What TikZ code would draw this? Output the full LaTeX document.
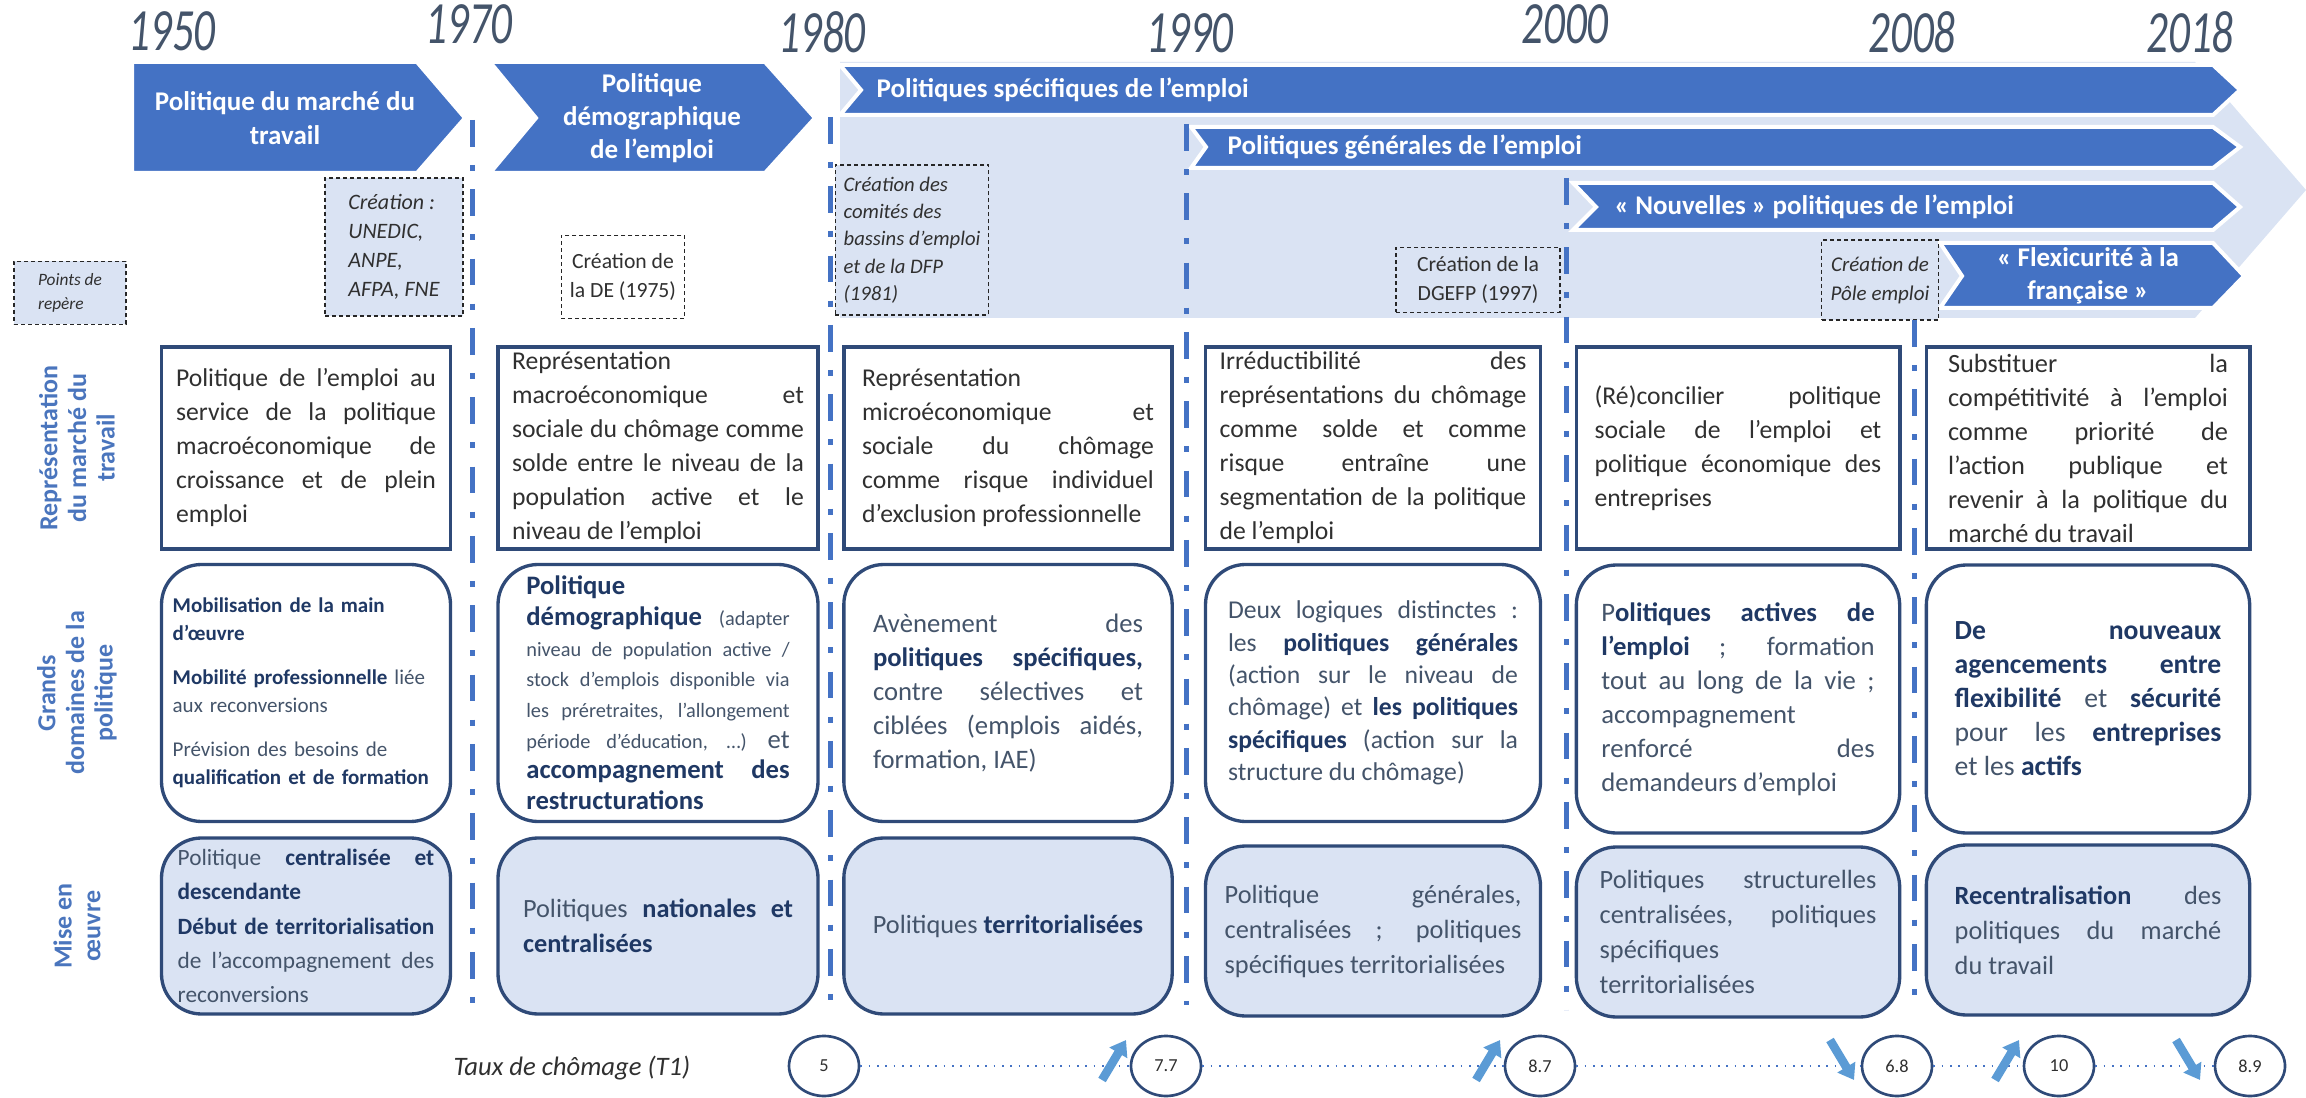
\documentclass[tikz,border=0pt]{standalone}
\usepackage{fontspec}
\setmainfont{Carlito}
\newfontfamily\yearfont{Carlito}[FakeStretch=0.72]
\usetikzlibrary{shapes.geometric,arrows.meta}
\definecolor{arrowblue}{HTML}{4472C4}
\definecolor{lightbg}{HTML}{DAE3F3}
\definecolor{navy}{HTML}{2F4A78}
\definecolor{boldnavy}{HTML}{1F3864}
\definecolor{slate}{HTML}{44546A}
\definecolor{txtgray}{HTML}{303030}
\definecolor{labblue}{HTML}{4A75BD}
\definecolor{trendblue}{HTML}{5B9BD5}
\newcommand{\fort}[1]{{\bfseries\color{boldnavy}#1}}
\hyphenpenalty=10000
\exhyphenpenalty=10000
\begin{document}
\begin{tikzpicture}[x=0.3pt,y=-0.3pt,
  yearlab/.style={font=\yearfont\fontsize{18}{18}\selectfont\itshape,text=slate},
  darkarrow/.style={fill=arrowblue,draw=white,line width=1.2pt},
  arrowtxt/.style={font=\fontsize{8.1}{10}\selectfont\bfseries,text=white,align=center,inner sep=0pt},
  repere/.style={draw=black!85,dash pattern=on 1.2pt off 0.9pt,line width=0.45pt,fill=lightbg,
    inner sep=0pt,font=\fontsize{6.5}{8.7}\selectfont,text=txtgray},
  rowlab/.style={rotate=90,font=\fontsize{7.8}{8.6}\selectfont\bfseries,text=labblue,align=center},
  sepline/.style={draw=arrowblue,line width=1.5pt,dash pattern=on 8pt off 5.5pt on 1.8pt off 5.5pt},
  repbox/.style={draw=navy,line width=1.1pt,fill=white,align=justify,inner sep=0pt,
    minimum height=60.6pt,font=\fontsize{7.7}{10.2}\selectfont,text=txtgray},
  domaine/.style={draw=navy,line width=1pt,rounded corners=12pt,fill=white,align=justify,inner sep=0pt,
    minimum height=77.1pt,font=\fontsize{7.8}{10}\selectfont,text=slate},
  oeuvre/.style={domaine,fill=lightbg,minimum height=52.8pt,font=\fontsize{7.9}{10.5}\selectfont},
  taux/.style={ellipse,draw=navy,line width=0.8pt,fill=white,minimum width=21pt,minimum height=18pt,
    inner sep=0pt,font=\fontsize{5.5}{6}\selectfont,text=txtgray},
  tauxline/.style={draw=arrowblue,line width=0.5pt,dotted},
  trend/.style={draw=trendblue,line width=2.6pt,-{Triangle[width=6pt,length=4.5pt]}}]
\useasboundingbox (0,0) rectangle (2306,1098);

% periodes
\fill[lightbg] (840,62) -- (2195,62) -- (2306,190) -- (2195,318) -- (840,318) -- cycle;
\fill[darkarrow] (132,62) -- (417,62) -- (465,118) -- (417,173) -- (132,173) -- cycle;
\fill[darkarrow] (490,62) -- (765,62) -- (815,118) -- (765,173) -- (490,173) -- (536,118) -- cycle;
\fill[darkarrow] (840,65) -- (2213,65) -- (2240,90) -- (2213,115) -- (840,115) -- (861,90) -- cycle;
\fill[darkarrow] (1191,127) -- (2213,127) -- (2240,147) -- (2213,168) -- (1191,168) -- (1206,147) -- cycle;
\fill[darkarrow] (1573,183) -- (2213,183) -- (2240,207) -- (2213,230) -- (1573,230) -- (1596,207) -- cycle;
\fill[darkarrow] (1940,243) -- (2213,243) -- (2244,276) -- (2213,308) -- (1940,308) -- (1962,276) -- cycle;
\node at (285,118) [arrowtxt] (pmarche) {Politique du marché du\\travail};
\node at (652,118) [arrowtxt] (pdemo) {Politique\\démographique\\de l’emploi};
\node at (876,90) [arrowtxt,anchor=west] (pspec) {Politiques spécifiques de l’emploi};
\node at (1227,147) [arrowtxt,anchor=west] (pgen) {Politiques générales de l’emploi};
\node at (1614,207) [arrowtxt,anchor=west] (pnouv) {« Nouvelles » politiques de l’emploi};
\node at (2088,276) [arrowtxt] (pflex) {« Flexicurité à la\\française »};

% annees
\node at (172,31) [yearlab] (a1950) {1950};
\node at (469,24) [yearlab] (a1970) {1970};
\node at (822,32) [yearlab] (a1980) {1980};
\node at (1190,33) [yearlab] (a1990) {1990};
\node at (1565,24) [yearlab] (a2000) {2000};
\node at (1912,32) [yearlab] (a2008) {2008};
\node at (2190,32) [yearlab] (a2018) {2018};

% points de repere
\node at (70,293) [repere,minimum width=33.6pt,minimum height=18.9pt,font=\fontsize{5.2}{7}\selectfont\itshape,align=left] (rep) {Points de\\repère};
\node at (394,247) [repere,minimum width=41.4pt,minimum height=41.4pt,font=\fontsize{6.6}{8.7}\selectfont\itshape,align=left] (unedic) {Création :\\UNEDIC,\\ANPE,\\AFPA, FNE};
\node at (623,277) [repere,fill=white,minimum width=37pt,minimum height=25pt,align=center] (de) {Création de\\la DE (1975)};
\node at (912,240) [repere,minimum width=46pt,minimum height=45pt,font=\fontsize{6.2}{8.2}\selectfont\itshape,align=left] (dfp) {Création des\\comités des\\bassins d’emploi\\et de la DFP\\(1981)};
\node at (1478,280) [repere,minimum width=49.2pt,minimum height=19.5pt,align=center] (dgefp) {Création de la\\DGEFP (1997)};
\node at (1880,280) [repere,minimum width=35pt,minimum height=24pt,font=\fontsize{6.3}{8.7}\selectfont\itshape,align=center] (pole) {Création de\\Pôle emploi};

% ruptures
\draw[sepline] (472,120) -- (472,1005);
\draw[sepline] (830,117) -- (830,1005);
\draw[sepline] (1186,124) -- (1186,1005);
\draw[sepline] (1566,178) -- (1566,1010);
\draw[sepline] (1914,320) -- (1914,1010);

% lignes
\node at (77,448) [rowlab] (lrep) {Représentation\\du marché du\\travail};
\node at (77,693) [rowlab] (ldom) {Grands\\domaines de la\\politique};
\node at (77,926) [rowlab] (lmise) {Mise en\\œuvre};

% representation
\node at (306,448) [repbox,minimum width=86.7pt,text width=78pt] (rep1) {Politique de l’emploi au\linebreak service de la politique\linebreak macroéconomique de\linebreak croissance et de plein\linebreak emploi};
\node at (658,448) [repbox,minimum width=96pt,text width=87.5pt] (rep2) {Représentation\linebreak macroéconomique et\linebreak sociale du chômage comme\linebreak solde entre le niveau de la\linebreak population active et le\linebreak niveau de l’emploi};
\node at (1008,448) [repbox,minimum width=98.5pt,text width=87.5pt] (rep3) {Représentation\linebreak microéconomique et\linebreak sociale du chômage\linebreak comme risque individuel\linebreak d’exclusion professionnelle};
\node at (1373,448) [repbox,minimum width=100.5pt,text width=92pt] (rep4) {Irréductibilité des\linebreak représentations du chômage\linebreak comme solde et comme\linebreak risque entraîne une\linebreak segmentation de la politique\linebreak de l’emploi};
\node at (1738,448) [repbox,minimum width=97pt,text width=86pt] (rep5) {(Ré)concilier politique\linebreak sociale de l’emploi et\linebreak politique économique des\linebreak entreprises};
\node at (2088,448) [repbox,minimum width=97pt,text width=84pt,font=\fontsize{7.9}{10.2}\selectfont] (rep6) {Substituer la\linebreak compétitivité à l’emploi\linebreak comme priorité de\linebreak l’action publique et\linebreak revenir à la politique du\linebreak marché du travail};

% grands domaines
\node at (306,693) [domaine,minimum width=86.7pt,text width=80pt,align=left,font=\fontsize{6.3}{8.4}\selectfont] (dom1) {\fort{Mobilisation de la main}\\\fort{d’œuvre}\\[4.8pt]\fort{Mobilité professionnelle} liée\\aux reconversions\\[4.8pt]Prévision des besoins de\\\fort{qualification et de formation}};
\node at (658,693) [domaine,minimum width=96pt,text width=79pt,font=\fontsize{8}{9.2}\selectfont] (dom2) {\fort{Politique}\linebreak \fort{démographique} {\fontsize{6.1}{9.2}\selectfont (adapter\linebreak niveau de population active /\linebreak stock d’emplois disponible via\linebreak les préretraites, l’allongement\linebreak période d’éducation, …)} et\linebreak \fort{accompagnement des}\linebreak \fort{restructurations}};
\node at (1008,693) [domaine,minimum width=98.5pt,text width=81pt,font=\fontsize{8}{10.2}\selectfont] (dom3) {Avènement des\linebreak \fort{politiques spécifiques,}\linebreak contre sélectives et\linebreak ciblées (emplois aidés,\linebreak formation, IAE)};
\node at (1373,693) [domaine,minimum width=100.5pt,text width=87pt,font=\fontsize{7.7}{9.7}\selectfont] (dom4) {Deux logiques distinctes :\linebreak les \fort{politiques générales}\linebreak (action sur le niveau de\linebreak chômage) et \fort{les politiques}\linebreak \fort{spécifiques} (action sur la\linebreak structure du chômage)};
\node at (1738,699) [domaine,minimum width=97pt,minimum height=80.4pt,text width=82pt,font=\fontsize{8}{10.2}\selectfont] (dom5) {P\fort{olitiques actives de}\linebreak \fort{l’emploi} ; formation\linebreak tout au long de la vie ;\linebreak accompagnement\linebreak renforcé des\linebreak demandeurs d’emploi};
\node at (2088,699) [domaine,minimum width=97pt,minimum height=80.4pt,text width=80pt,font=\fontsize{8.3}{10.2}\selectfont] (dom6) {\fort{De nouveaux}\linebreak \fort{agencements entre}\linebreak \fort{flexibilité} et \fort{sécurité}\linebreak pour les \fort{entreprises}\linebreak et les \fort{actifs}};

% mise en oeuvre
\node at (306,926) [oeuvre,minimum width=86.7pt,text width=77pt,font=\fontsize{7}{10.3}\selectfont] (mo1) {Politique \fort{centralisée et}\linebreak \fort{descendante}\linebreak \fort{Début de territorialisation}\linebreak de l’accompagnement des\linebreak reconversions};
\node at (658,926) [oeuvre,minimum width=96pt,text width=81pt] (mo2) {Politiques \fort{nationales et}\linebreak \fort{centralisées}};
\node at (1008,926) [oeuvre,minimum width=98.5pt,align=center] (mo3) {Politiques \fort{territorialisées}};
\node at (1373,931) [oeuvre,minimum width=100.5pt,minimum height=51pt,text width=89pt] (mo4) {Politique générales,\linebreak centralisées ; politiques\linebreak spécifiques territorialisées};
\node at (1738,932) [oeuvre,minimum width=97pt,minimum height=51pt,text width=83pt] (mo5) {Politiques structurelles\linebreak centralisées, politiques\linebreak spécifiques\linebreak territorialisées};
\node at (2088,930) [oeuvre,minimum width=97pt,minimum height=51pt,text width=80pt] (mo6) {\fort{Recentralisation} des\linebreak politiques du marché\linebreak du travail};

% taux de chomage
\node at (572,1068) [font=\fontsize{8}{8}\selectfont\itshape,text=txtgray] (taux) {Taux de chômage (T1)};
\node at (824,1066) [taux] (c5) {5};
\node at (1166,1066) [taux] (c77) {7.7};
\node at (1540,1066) [taux] (c87) {8.7};
\node at (1897,1066) [taux] (c68) {6.8};
\node at (2059,1066) [taux] (c10) {10};
\node at (2250,1066) [taux] (c89) {8.9};
\draw[tauxline] (c5) -- (c77);
\draw[tauxline] (c77) -- (c87);
\draw[tauxline] (c87) -- (c68);
\draw[tauxline] (c68) -- (c10);
\draw[tauxline] (c10) -- (c89);
\coordinate (u1a) at (1102,1080); \coordinate (u1b) at (1126,1040);
\coordinate (u2a) at (1476,1080); \coordinate (u2b) at (1500,1040);
\coordinate (d1a) at (1830,1040); \coordinate (d1b) at (1854,1080);
\coordinate (u3a) at (1995,1080); \coordinate (u3b) at (2019,1040);
\coordinate (d2a) at (2176,1040); \coordinate (d2b) at (2200,1080);
\draw[trend] (u1a) -- (u1b);
\draw[trend] (u2a) -- (u2b);
\draw[trend] (d1a) -- (d1b);
\draw[trend] (u3a) -- (u3b);
\draw[trend] (d2a) -- (d2b);
\end{tikzpicture}
\end{document}
